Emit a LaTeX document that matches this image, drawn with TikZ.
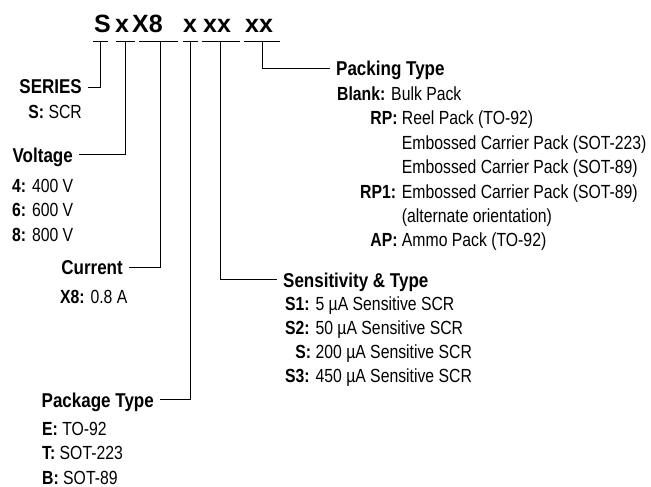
\documentclass[tikz,border=0pt]{standalone}
\usepackage{fontspec}
\usepackage{tikz}
\usetikzlibrary{positioning}
\newfontfamily\titlefont{Liberation Sans}
\newfontfamily\headfont[FakeStretch=0.85]{Liberation Sans}
\newfontfamily\bodyfont[FakeStretch=0.83]{Liberation Sans}

\begin{document}
\begin{tikzpicture}[x=1pt, y=-1pt,
    code/.style={font=\titlefont\bfseries\fontsize{25}{25}\selectfont,
        inner sep=0pt, anchor=base west},
    head/.style={font=\headfont\bfseries\fontsize{20}{22}\selectfont,
        inner xsep=6pt, inner ysep=0pt, text depth=0pt},
    entry/.style={font=\bodyfont\fontsize{19}{24.5}\selectfont,
        inner sep=0pt, anchor=base west},
    wire/.style={line width=1pt, black}
]
\useasboundingbox (0,0) rectangle (651,487);

% part number
\node[code] (cS)    at (94,33)  {S};
\node[code] (cVolt) at (115,33) {x};
\node[code] (cCurr) at (132,33) {X8};
\node[code] (cPkg)  at (183,33) {x};
\node[code] (cSen)  at (203,33) {xx};
\node[code] (cPck)  at (245,33) {xx};
\foreach \a/\b in {93/108, 116/135, 139/178, 183/198, 202/240, 244/280}
    \draw[wire] (\a,42) -- (\b,42);
\coordinate (uSer)  at (100,42);
\coordinate (uVolt) at (125,42);
\coordinate (uCurr) at (160,42);
\coordinate (uPkg)  at (190,42);
\coordinate (uSen)  at (220,42);
\coordinate (uPck)  at (262,42);

% left column
\node[head, anchor=base east] (series) at (88,94) {SERIES};
\node[entry, anchor=base east] (seriesv) at (82,118) {\textbf{S:} SCR};

\node[head, anchor=base east] (volt) at (79,162) {Voltage};
\node[entry] (voltv) at (12,192)
    {\begin{tabular}[t]{@{}l@{}}
     \textbf{4:} 400 V\\
     \textbf{6:} 600 V\\
     \textbf{8:} 800 V
     \end{tabular}};

\node[head, anchor=base east] (curr) at (129,274) {Current};
\node[entry] (currv) at (60,303) {\textbf{X8:} 0.8 A};

\node[head, anchor=base east] (pkg) at (160,407) {Package Type};
\node[entry] (pkgv) at (42,435)
    {\begin{tabular}[t]{@{}l@{}}
     \textbf{E:} TO-92\\
     \textbf{T:} SOT-223\\
     \textbf{B:} SOT-89
     \end{tabular}};

% right column
\node[head, anchor=base west] (pack) at (330,76) {Packing Type};
\node[entry] (packv) at (337,100)
    {\begin{tabular}[t]{@{}p{23pt}@{}r@{ }l@{}}
     \multicolumn{3}{@{}l@{}}{\textbf{Blank:} Bulk Pack}\\
     & \textbf{RP:} & Reel Pack (TO-92)\\
     & & Embossed Carrier Pack (SOT-223)\\
     & & Embossed Carrier Pack (SOT-89)\\
     & \textbf{RP1:} & Embossed Carrier Pack (SOT-89)\\
     & & (alternate orientation)\\
     & \textbf{AP:} & Ammo Pack (TO-92)
     \end{tabular}};

\node[head, anchor=base west] (sens) at (277,287) {Sensitivity \& Type};
\node[entry, font=\bodyfont\fontsize{19}{24}\selectfont] (sensv) at (285,310)
    {\begin{tabular}[t]{@{}r@{ }l@{}}
     \textbf{S1:} & 5 µA Sensitive SCR\\
     \textbf{S2:} & 50 µA Sensitive SCR\\
     \textbf{S:}  & 200 µA Sensitive SCR\\
     \textbf{S3:} & 450 µA Sensitive SCR
     \end{tabular}};

% leaders
\draw[wire] (uSer)  |- (series.east);
\draw[wire] (uVolt) |- (volt.east);
\draw[wire] (uCurr) |- (curr.east);
\draw[wire] (uPkg)  |- (pkg.east);
\draw[wire] (uSen)  |- (sens.west);
\draw[wire] (uPck)  |- (pack.west);
\end{tikzpicture}
\end{document}
